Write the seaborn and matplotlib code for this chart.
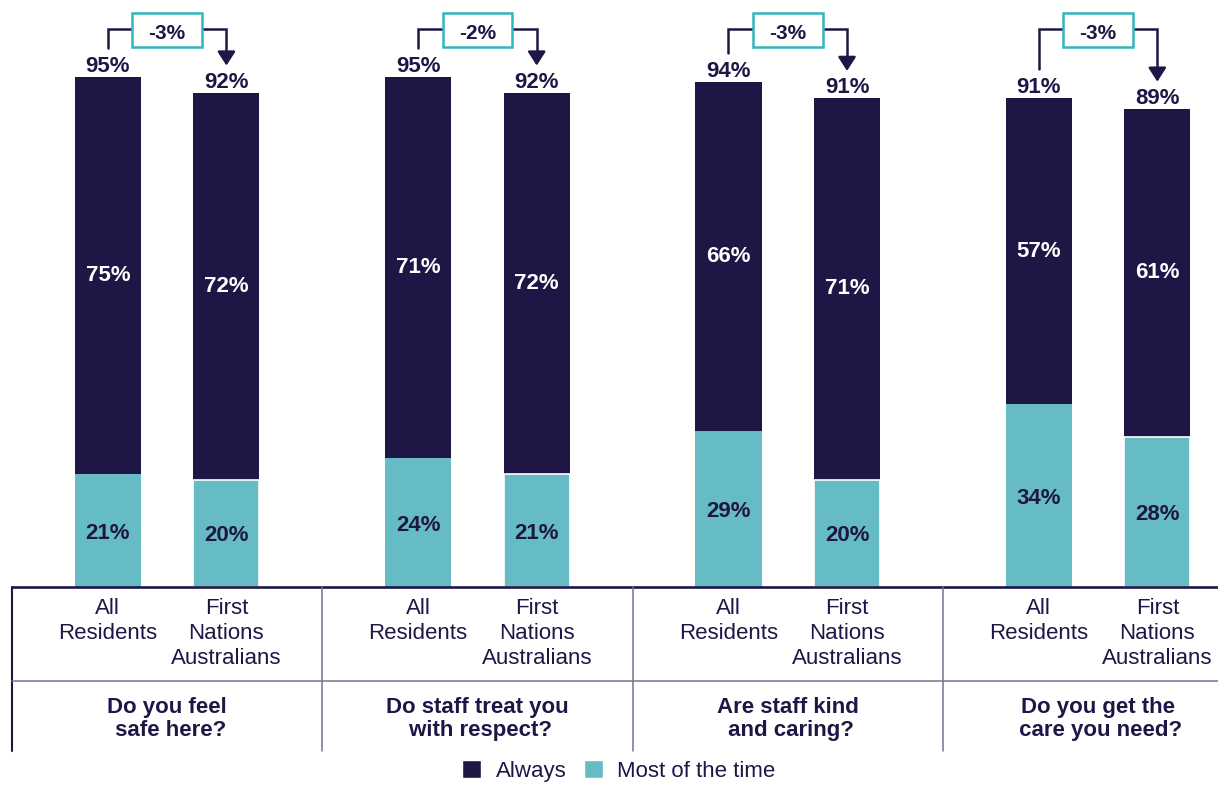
import numpy as np
import pandas as pd
import matplotlib
matplotlib.use("Agg")
import matplotlib.pyplot as plt
from matplotlib.patches import Patch, Rectangle
import seaborn as sns

# Survey results: share of residents answering "Always" / "Most of the time"
questions = [
    "Do you feel\n safe here?",
    "Do staff treat you\n with respect?",
    "Are staff kind\n and caring?",
    "Do you get the\n care you need?",
]
populations = ["All\nResidents", "First\nNations\nAustralians"]
always_pct = [75, 72, 71, 72, 66, 71, 57, 61]
most_pct = [21, 20, 24, 21, 29, 20, 34, 28]
total_pct = [95, 92, 95, 92, 94, 91, 91, 89]
change_pct = [-3, -2, -3, -3]

NAVY = "#1f1645"
TEAL = "#66bcc4"
BOX_TEAL = "#33b5bf"
DIVIDER = "#77738f"

sns.set_theme(style="white")
plt.rcParams["font.family"] = ["Liberation Sans", "DejaVu Sans"]

W_PX, H_PX = 1218, 785
fig = plt.figure(figsize=(W_PX / 100, H_PX / 100), dpi=100)

left_px, base_px = 12, 587
group_px = 310.3
px_per_pct = 5.37

ax = fig.add_axes([left_px / W_PX, (H_PX - base_px) / H_PX,
                   (W_PX - left_px) / W_PX, base_px / H_PX])
tab = fig.add_axes([left_px / W_PX, 0, (W_PX - left_px) / W_PX,
                    (H_PX - base_px) / H_PX])

n_groups = len(questions)
offset = 0.191
bar_w = 0.213
xpos = np.array([g + 0.5 + s * offset for g in range(n_groups) for s in (-1, 1)])

df = pd.DataFrame({"x": xpos, "total": total_pct,
                   "always": always_pct, "most": most_pct})

native = np.min(np.diff(np.unique(xpos)))
common = dict(native_scale=True, width=bar_w / native, saturation=1,
              errorbar=None, linewidth=0, ax=ax)
# full bar (dark) then the "most of the time" part over its lower portion
sns.barplot(data=df, x="x", y="total", color=NAVY, **common)
n0 = len(ax.patches)
sns.barplot(data=df, x="x", y="most", color=TEAL, **common)
for p in ax.patches[n0:][1::2]:
    p.set_edgecolor("white")
    p.set_linewidth(1.2)

xmax = (W_PX - left_px) / group_px
ax.set_xlim(0, xmax)
ax.set_ylim(0, base_px / px_per_pct)
ax.axis("off")
ax.axhline(0, color=NAVY, lw=1.9, clip_on=False, zorder=6)

VAL_SIZE = 16
for x, t, a, m in zip(xpos, total_pct, always_pct, most_pct):
    ax.text(x, (t + m) / 2, f"{a}%", color="white", ha="center", va="center",
            fontsize=VAL_SIZE, fontweight="bold")
    ax.text(x, m / 2, f"{m}%", color=NAVY, ha="center", va="center_baseline",
            fontsize=VAL_SIZE, fontweight="bold")
    ax.annotate(f"{t}%", (x, t), xytext=(0, 3.6), textcoords="offset points",
                ha="center", va="baseline", color=NAVY,
                fontsize=VAL_SIZE, fontweight="bold")

# change brackets between the two bars of each question
y_br = 104.0
box_w, box_h = 69.5 / group_px, 34 / px_per_pct
for g in range(n_groups):
    x1, x2 = xpos[2 * g], xpos[2 * g + 1]
    t1, t2 = total_pct[2 * g], total_pct[2 * g + 1]
    tip = t2 + 5.1
    ax.plot([x1, x1, x2, x2], [t1 + 5.4, y_br, y_br, tip + 1.5], color=NAVY,
            lw=1.8, clip_on=False, solid_joinstyle="miter", zorder=3)
    ax.annotate("", xy=(x2, tip), xytext=(x2, tip + 2.5),
                arrowprops=dict(arrowstyle="-|>,head_length=0.7,head_width=0.45",
                                color=NAVY, lw=1.8, shrinkA=0, shrinkB=0),
                annotation_clip=False, zorder=3)
    gc = g + 0.5
    ax.add_patch(Rectangle((gc - box_w / 2, 103.7 - box_h / 2), box_w, box_h,
                           facecolor="white", edgecolor=BOX_TEAL, lw=1.8,
                           clip_on=False, zorder=4))
    ax.text(gc, 103.5, f"{change_pct[g]}%", ha="center", va="center_baseline",
            color=NAVY, fontsize=15, fontweight="bold", zorder=5)

# table of labels beneath the bars
tab.set_xlim(0, xmax)
tab.set_ylim(H_PX - base_px, 0)
tab.axis("off")
for g in range(n_groups):
    tab.plot([g, g], [0, 164], color=NAVY if g == 0 else DIVIDER,
             lw=1.5 if g == 0 else 1.1, clip_on=False)
    tab.text(g + 0.5, 110, questions[g], ha="center", va="top", color=NAVY,
             fontsize=16, fontweight="bold", linespacing=1.13)
tab.plot([0, xmax], [94, 94], color=DIVIDER, lw=1.1, clip_on=False)
for i, x in enumerate(xpos):
    tab.text(x, 11, populations[i % 2], ha="center", va="top", color=NAVY,
             fontsize=16, linespacing=1.25)

fig.legend(handles=[Patch(facecolor=NAVY, label="Always"),
                    Patch(facecolor=TEAL, label="Most of the time")],
           loc="center", bbox_to_anchor=(619 / W_PX, 1 - 771 / H_PX), ncol=2,
           frameon=False, fontsize=16, handlelength=0.85, handleheight=0.85,
           handletextpad=0.65, columnspacing=0.8, labelcolor=NAVY,
           borderpad=0, borderaxespad=0)

fig.savefig("out.png", dpi=100)
